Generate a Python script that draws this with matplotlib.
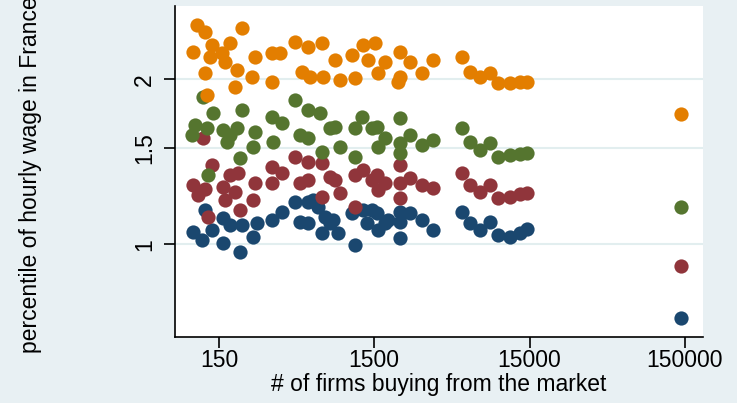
import matplotlib
matplotlib.use("Agg")
import matplotlib.pyplot as plt
import matplotlib.ticker as mticker

plt.rcParams['font.family'] = ['Liberation Sans', 'DejaVu Sans']

# markets: number of buying firms and wage percentile, one pair of lists per series
firms_p10 = [102, 116, 122, 135, 160, 160, 177, 205, 210, 249, 262, 328, 380,
             463, 499, 564, 564, 607, 654, 688, 722, 778, 817, 880, 1073, 1127,
             1274, 1340, 1443, 1554, 1592, 1758, 1845, 2196, 2196, 2196, 2547,
             3030, 3597, 5481, 6200, 7190, 8340, 9430, 11220, 13020, 14370, 142000]
wage_p10 = [1.054, 1.018, 1.155, 1.062, 1.115, 1.004, 1.084, 0.969, 1.084, 1.032,
            1.092, 1.108, 1.147, 1.196, 1.100, 1.196, 1.092, 1.205, 1.171, 1.047,
            1.123, 1.092, 1.108, 1.047, 1.139, 0.997, 1.155, 1.092, 1.155, 1.139,
            1.062, 1.092, 1.108, 1.147, 1.100, 1.026, 1.139, 1.108, 1.062, 1.147,
            1.092, 1.062, 1.100, 1.040, 1.032, 1.047, 1.065, 0.735]

firms_p25 = [102, 110, 119, 122, 128, 135, 160, 164, 177, 190, 200, 205, 249,
             256, 328, 328, 380, 463, 499, 564, 564, 688, 688, 778, 838, 902,
             1127, 1127, 1274, 1443, 1554, 1592, 1758, 2196, 2196, 2196, 2547,
             3030, 3597, 5481, 6200, 7190, 8340, 9430, 11220, 13020, 14370, 142000]
wage_p25 = [1.283, 1.230, 1.561, 1.260, 1.123, 1.395, 1.274, 1.205, 1.338, 1.247,
            1.348, 1.155, 1.205, 1.292, 1.386, 1.292, 1.348, 1.445, 1.292, 1.415,
            1.310, 1.405, 1.222, 1.328, 1.310, 1.239, 1.338, 1.171, 1.366, 1.310,
            1.338, 1.256, 1.292, 1.395, 1.292, 1.213, 1.320, 1.283, 1.265, 1.348,
            1.283, 1.247, 1.283, 1.213, 1.222, 1.235, 1.242, 0.913]

firms_p50 = [100, 105, 119, 125, 128, 138, 160, 168, 177, 195, 205, 210, 249,
             256, 328, 336, 380, 463, 499, 564, 564, 671, 688, 778, 838, 902,
             1127, 1127, 1245, 1443, 1554, 1592, 1758, 2196, 2196, 2196, 2547,
             3030, 3597, 5481, 6200, 7190, 8340, 9430, 11220, 13020, 14370, 142000]
wage_p50 = [1.583, 1.651, 1.859, 1.628, 1.338, 1.734, 1.617, 1.539, 1.583, 1.628,
            1.435, 1.758, 1.507, 1.605, 1.709, 1.539, 1.663, 1.834, 1.583, 1.758,
            1.561, 1.734, 1.476, 1.628, 1.639, 1.507, 1.628, 1.445, 1.709, 1.628,
            1.639, 1.507, 1.561, 1.698, 1.529, 1.466, 1.583, 1.518, 1.550, 1.628,
            1.539, 1.486, 1.529, 1.445, 1.455, 1.461, 1.466, 1.171]

firms_p75 = [102, 108, 122, 122, 125, 131, 135, 156, 164, 177, 190, 195, 210,
             244, 256, 328, 328, 371, 463, 511, 564, 578, 688, 704, 838, 902,
             1073, 1127, 1274, 1372, 1516, 1592, 1758, 2141, 2196, 2196, 2547,
             3030, 3597, 5481, 6200, 7190, 8340, 9430, 11220, 13020, 14370, 142000]
wage_p75 = [2.246, 2.513, 2.443, 2.051, 1.873, 2.200, 2.310, 2.231, 2.154, 2.327,
            1.939, 2.080, 2.478, 2.022, 2.200, 2.231, 1.980, 2.231, 2.343, 2.065,
            2.294, 2.022, 2.327, 2.022, 2.169, 1.994, 2.215, 2.009, 2.310, 2.169,
            2.327, 2.051, 2.154, 1.980, 2.246, 2.022, 2.154, 2.051, 2.169, 2.200,
            2.065, 2.022, 2.051, 1.967, 1.972, 1.975, 1.980, 1.730]

x_ticks = [150, 1500, 15000, 150000]
y_ticks = [1, 1.5, 2]

bg = "#e8f0f3"
fig = plt.figure(figsize=(7.37, 4.03), dpi=100, facecolor=bg)
ax = fig.add_axes([0.238, 0.1645, 0.7158, 0.8206])
ax.set_facecolor("white")

series = [(firms_p10, wage_p10, "#1a476f"),
          (firms_p25, wage_p25, "#90353b"),
          (firms_p50, wage_p50, "#55752f"),
          (firms_p75, wage_p75, "#e37e00")]
for xs, ys, c in series:
    ax.scatter(xs, ys, s=105, color=c, linewidths=0, zorder=3)

ax.set_xscale("log")
ax.set_yscale("log")
ax.set_xlim(78.7, 196000)
ax.set_ylim(0.678, 2.722)

ax.xaxis.set_major_locator(mticker.FixedLocator(x_ticks))
ax.xaxis.set_major_formatter(mticker.FixedFormatter([str(v) for v in x_ticks]))
ax.xaxis.set_minor_locator(mticker.NullLocator())
ax.yaxis.set_major_locator(mticker.FixedLocator(y_ticks))
ax.yaxis.set_major_formatter(mticker.FixedFormatter(["1", "1.5", "2"]))
ax.yaxis.set_minor_locator(mticker.NullLocator())

for t in y_ticks:
    ax.axhline(t, color="#e2eeef", lw=1.5, zorder=1)

for side in ["top", "right"]:
    ax.spines[side].set_visible(False)
for side in ["left", "bottom"]:
    ax.spines[side].set_linewidth(1.2)

ax.tick_params(axis="both", direction="out", length=8, width=1.2, labelsize=16.5)
ax.tick_params(axis="x", pad=0.5)
ax.tick_params(axis="y", pad=6)
for lab in ax.get_yticklabels():
    lab.set_rotation(90)
    lab.set_va("center")

ax.set_xlabel("# of firms buying from the market", fontsize=16.5, labelpad=1)
# y title sits against the left edge, running past the top
fig.text(31 / 737, 1 - 353 / 403, "percentile of hourly wage in France",
         rotation=90, ha="center", va="bottom", fontsize=16.5)

fig.savefig("out.png", dpi=100, facecolor=bg)
